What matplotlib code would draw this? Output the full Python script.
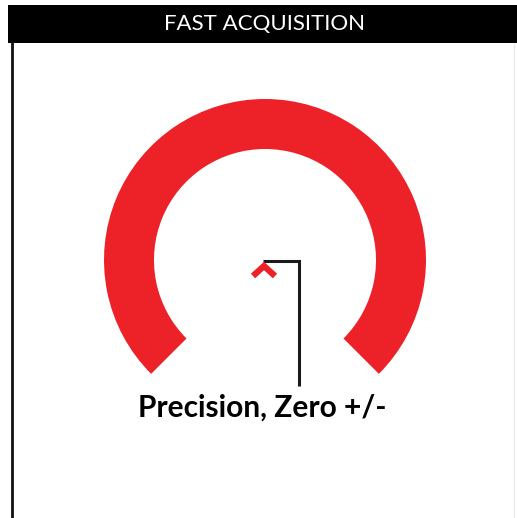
import matplotlib.pyplot as plt
from matplotlib.patches import Wedge, Rectangle

# content
titulo = 'FAST ACQUISITION'
rotulo = 'Precision, Zero +/-'
# arco vermelho: vai de 135 a 45 graus (passando pelo topo), aberto embaixo
arco_inicio = 135
arco_fim = 45
raio_ext = 161
raio_int = 111
centro = (265, 260)
vermelho = '#ED2128'

# chevron e colchete
chevron_x = [253, 264, 275]
chevron_y = [276, 266, 276]
colchete_x = [263, 299, 299]
colchete_y = [261, 261, 386]

fig = plt.figure(figsize=(5.17, 5.18), dpi=100)
ax = fig.add_axes([0, 0, 1, 1])
ax.set_xlim(0, 517)
ax.set_ylim(518, 0)
ax.set_aspect('equal')
ax.axis('off')

# cabecalho preto
ax.add_patch(Rectangle((8, 5), 509, 38, color='black', lw=0))
ax.text(264, 24, titulo, color='white', ha='center', va='center',
        fontsize=16, family='Lato')

# bordas
ax.plot([11.5, 11.5], [43, 518], color='#111111', lw=2)
ax.plot([514, 514], [43, 518], color='#e8e8e8', lw=0.8)

# arco
ax.add_patch(Wedge(centro, raio_ext, arco_inicio, arco_fim,
                   width=raio_ext - raio_int, color=vermelho, lw=0))

ax.plot(colchete_x, colchete_y, color='#1a1a1a', lw=2.2,
        solid_joinstyle='miter', solid_capstyle='butt')
ax.plot(chevron_x, chevron_y, color=vermelho, lw=4.5,
        solid_joinstyle='miter', solid_capstyle='butt')

ax.text(262, 408, rotulo, color='black', ha='center', va='center',
        fontsize=21.5, fontweight='bold', family='Lato')

fig.savefig('out.png', dpi=100)
